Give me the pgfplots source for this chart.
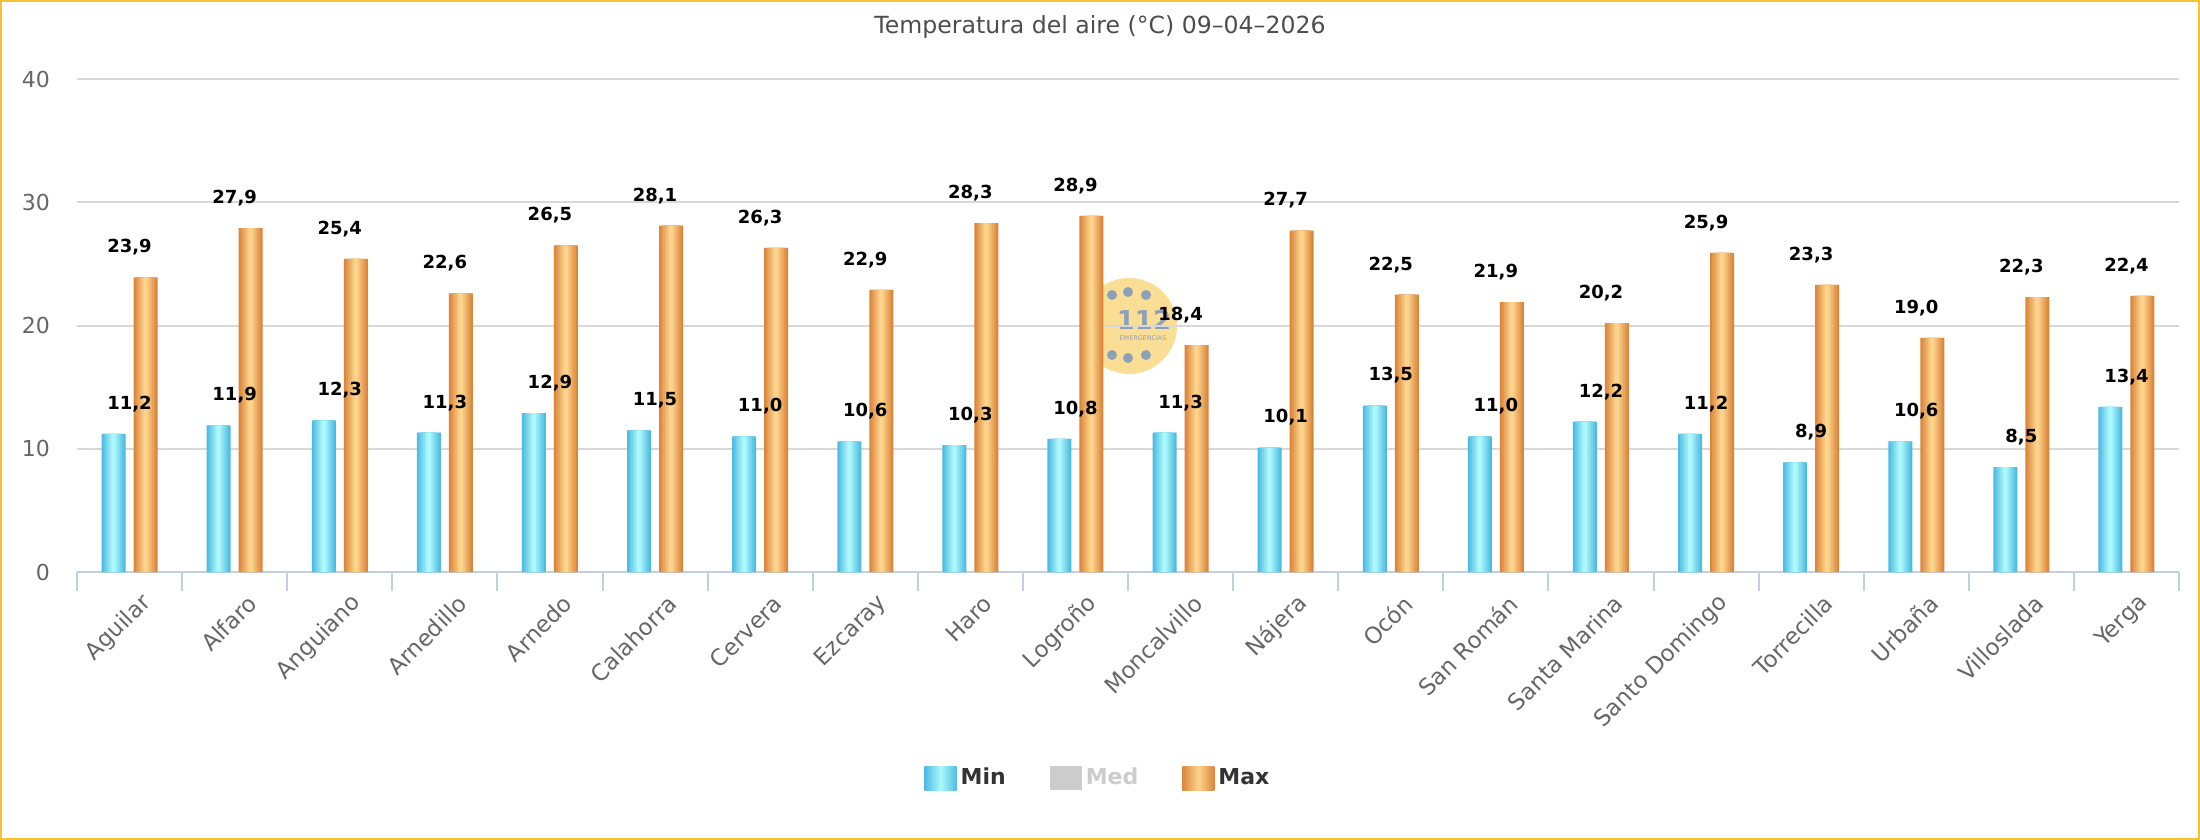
\documentclass[border=0pt]{standalone}
\usepackage{pgfplots}
\usepackage{pgfplotstable}
\pgfplotsset{compat=1.18}
\usepackage{fontspec}
\setmainfont{DejaVu Sans}
\definecolor{minedge}{RGB}{78,188,226}
\definecolor{minmid}{RGB}{172,248,252}
\definecolor{maxedge}{RGB}{220,134,60}
\definecolor{maxmid}{RGB}{253,212,140}
\definecolor{gridc}{RGB}{216,216,216}
\definecolor{axisc}{RGB}{192,208,224}
\definecolor{labc}{RGB}{102,102,102}
\definecolor{titc}{RGB}{77,77,77}
\definecolor{legc}{RGB}{51,51,51}
\definecolor{medc}{RGB}{204,204,204}
\definecolor{framec}{RGB}{247,194,50}
\definecolor{logoy}{RGB}{250,222,150}
\definecolor{logog}{RGB}{140,160,186}
\pgfplotstableread{
x min max
0 11.2 23.9
1 11.9 27.9
2 12.3 25.4
3 11.3 22.6
4 12.9 26.5
5 11.5 28.1
6 11.0 26.3
7 10.6 22.9
8 10.3 28.3
9 10.8 28.9
10 11.3 18.4
11 10.1 27.7
12 13.5 22.5
13 11.0 21.9
14 12.2 20.2
15 11.2 25.9
16 8.9 23.3
17 10.6 19.0
18 8.5 22.3
19 13.4 22.4
}\datatable
\begin{document}
\begin{tikzpicture}
% background watermark
\fill[logoy] (526pt,123pt) circle (24pt);
\foreach \x/\y in {517.5/138.5, 525.5/140, 534.5/138.5, 517.5/108.5, 525.5/107, 534.5/108.5}
  \fill[logog] (\x pt,\y pt) circle (2.5pt);
\node[text=logog, font=\fontsize{13}{15}\selectfont\bfseries, inner sep=0pt] at (533.5pt,126pt) {112};
\node[text=logog, font=\fontsize{3.2}{4}\selectfont, inner sep=0pt] at (533pt,117pt) {EMERGENCIAS};
\begin{axis}[
  at={(0pt,0pt)}, anchor=south west,
  scale only axis, width=1051pt, height=246.5pt,
  xmin=-0.5, xmax=19.5, ymin=0, ymax=40,
  axis lines*=left,
  y axis line style={draw=none},
  x axis line style={draw=axisc, line width=1pt},
  /pgf/number format/assume math mode=true,
  ytick={0,10,20,30,40},
  ymajorgrids, grid style={draw=gridc, line width=1pt},
  xtick={0,...,19},
  xticklabels={Aguilar,Alfaro,Anguiano,Arnedillo,Arnedo,Calahorra,Cervera,Ezcaray,Haro,Logroño,Moncalvillo,Nájera,Ocón,San Román,Santa Marina,Santo Domingo,Torrecilla,Urbaña,Villoslada,Yerga},
  major tick length=0pt,
  extra x ticks={-0.5,0.5,1.5,2.5,3.5,4.5,5.5,6.5,7.5,8.5,9.5,10.5,11.5,12.5,13.5,14.5,15.5,16.5,17.5,18.5,19.5},
  extra x tick labels={},
  extra x tick style={major tick length=9.5pt, tick align=outside, grid=none, tick style={draw=axisc, line width=1pt}},
  xticklabel style={rotate=45, anchor=east, font=\fontsize{11.4}{13}\selectfont, text=labc, xshift=0pt, yshift=-16pt},
  yticklabel style={font=\fontsize{11}{13}\selectfont, text=labc, xshift=-10pt},
  title={Temperatura del aire (°C) 09–04–2026},
  title style={at={(0.4867,1.0811)}, anchor=center, font=\fontsize{11.8}{14}\selectfont, text=titc},
  nodes near coords style={font=\fontsize{9}{11}\selectfont\bfseries, text=black, yshift=7.5pt},
  minbar/.style={ybar, forget plot, draw=none, bar shift=-8pt},
  maxbar/.style={ybar, forget plot, draw=none, bar shift=8pt},
  legend columns=3,
  legend style={at={(0.4862,-0.418)}, anchor=center, draw=none, fill=none,
    font=\fontsize{11}{13}\selectfont\bfseries, text=legc,
    /tikz/every even column/.append style={column sep=20pt}},
]
% Min series: layered bars give the horizontal gradient
\addplot[minbar, bar width=12pt, fill=minedge] table[x=x,y=min]{\datatable};
\addplot[minbar, bar width=10pt, fill=minmid!20!minedge] table[x=x,y=min]{\datatable};
\addplot[minbar, bar width=8pt, fill=minmid!40!minedge] table[x=x,y=min]{\datatable};
\addplot[minbar, bar width=6pt, fill=minmid!60!minedge] table[x=x,y=min]{\datatable};
\addplot[minbar, bar width=4pt, fill=minmid!80!minedge] table[x=x,y=min]{\datatable};
\addplot[minbar, bar width=2pt, fill=minmid,
  nodes near coords={\pgfmathprintnumber[fixed,fixed zerofill,precision=1,use comma]{\pgfplotspointmeta}}]
  table[x=x,y=min]{\datatable};
% Max series
\addplot[maxbar, bar width=12pt, fill=maxedge] table[x=x,y=max]{\datatable};
\addplot[maxbar, bar width=10pt, fill=maxmid!20!maxedge] table[x=x,y=max]{\datatable};
\addplot[maxbar, bar width=8pt, fill=maxmid!40!maxedge] table[x=x,y=max]{\datatable};
\addplot[maxbar, bar width=6pt, fill=maxmid!60!maxedge] table[x=x,y=max]{\datatable};
\addplot[maxbar, bar width=4pt, fill=maxmid!80!maxedge] table[x=x,y=max]{\datatable};
\addplot[maxbar, bar width=2pt, fill=maxmid,
  nodes near coords={\pgfmathprintnumber[fixed,fixed zerofill,precision=1,use comma]{\pgfplotspointmeta}}]
  table[x=x,y=max]{\datatable};
\addlegendimage{draw=none, legend image code/.code={\shade[draw=none,left color=minedge,right color=minedge,middle color=minmid] (0pt,-6pt) rectangle (16pt,6pt);}}
\addlegendentry{Min}
\addlegendimage{draw=none, legend image code/.code={\fill[draw=none,medc] (0pt,-6pt) rectangle (16pt,6pt);}}
\addlegendentry{\textcolor{medc}{Med}}
\addlegendimage{draw=none, legend image code/.code={\shade[draw=none,left color=maxedge,right color=maxedge,middle color=maxmid] (0pt,-6pt) rectangle (16pt,6pt);}}
\addlegendentry{Max}
\end{axis}
\draw[framec, line width=1.2pt] (-37.9pt,-133.4pt) rectangle (1060.9pt,285.4pt);
\pgfresetboundingbox
\useasboundingbox (-38.5pt,-134pt) rectangle (1061.5pt,286pt);
\end{tikzpicture}
\end{document}
